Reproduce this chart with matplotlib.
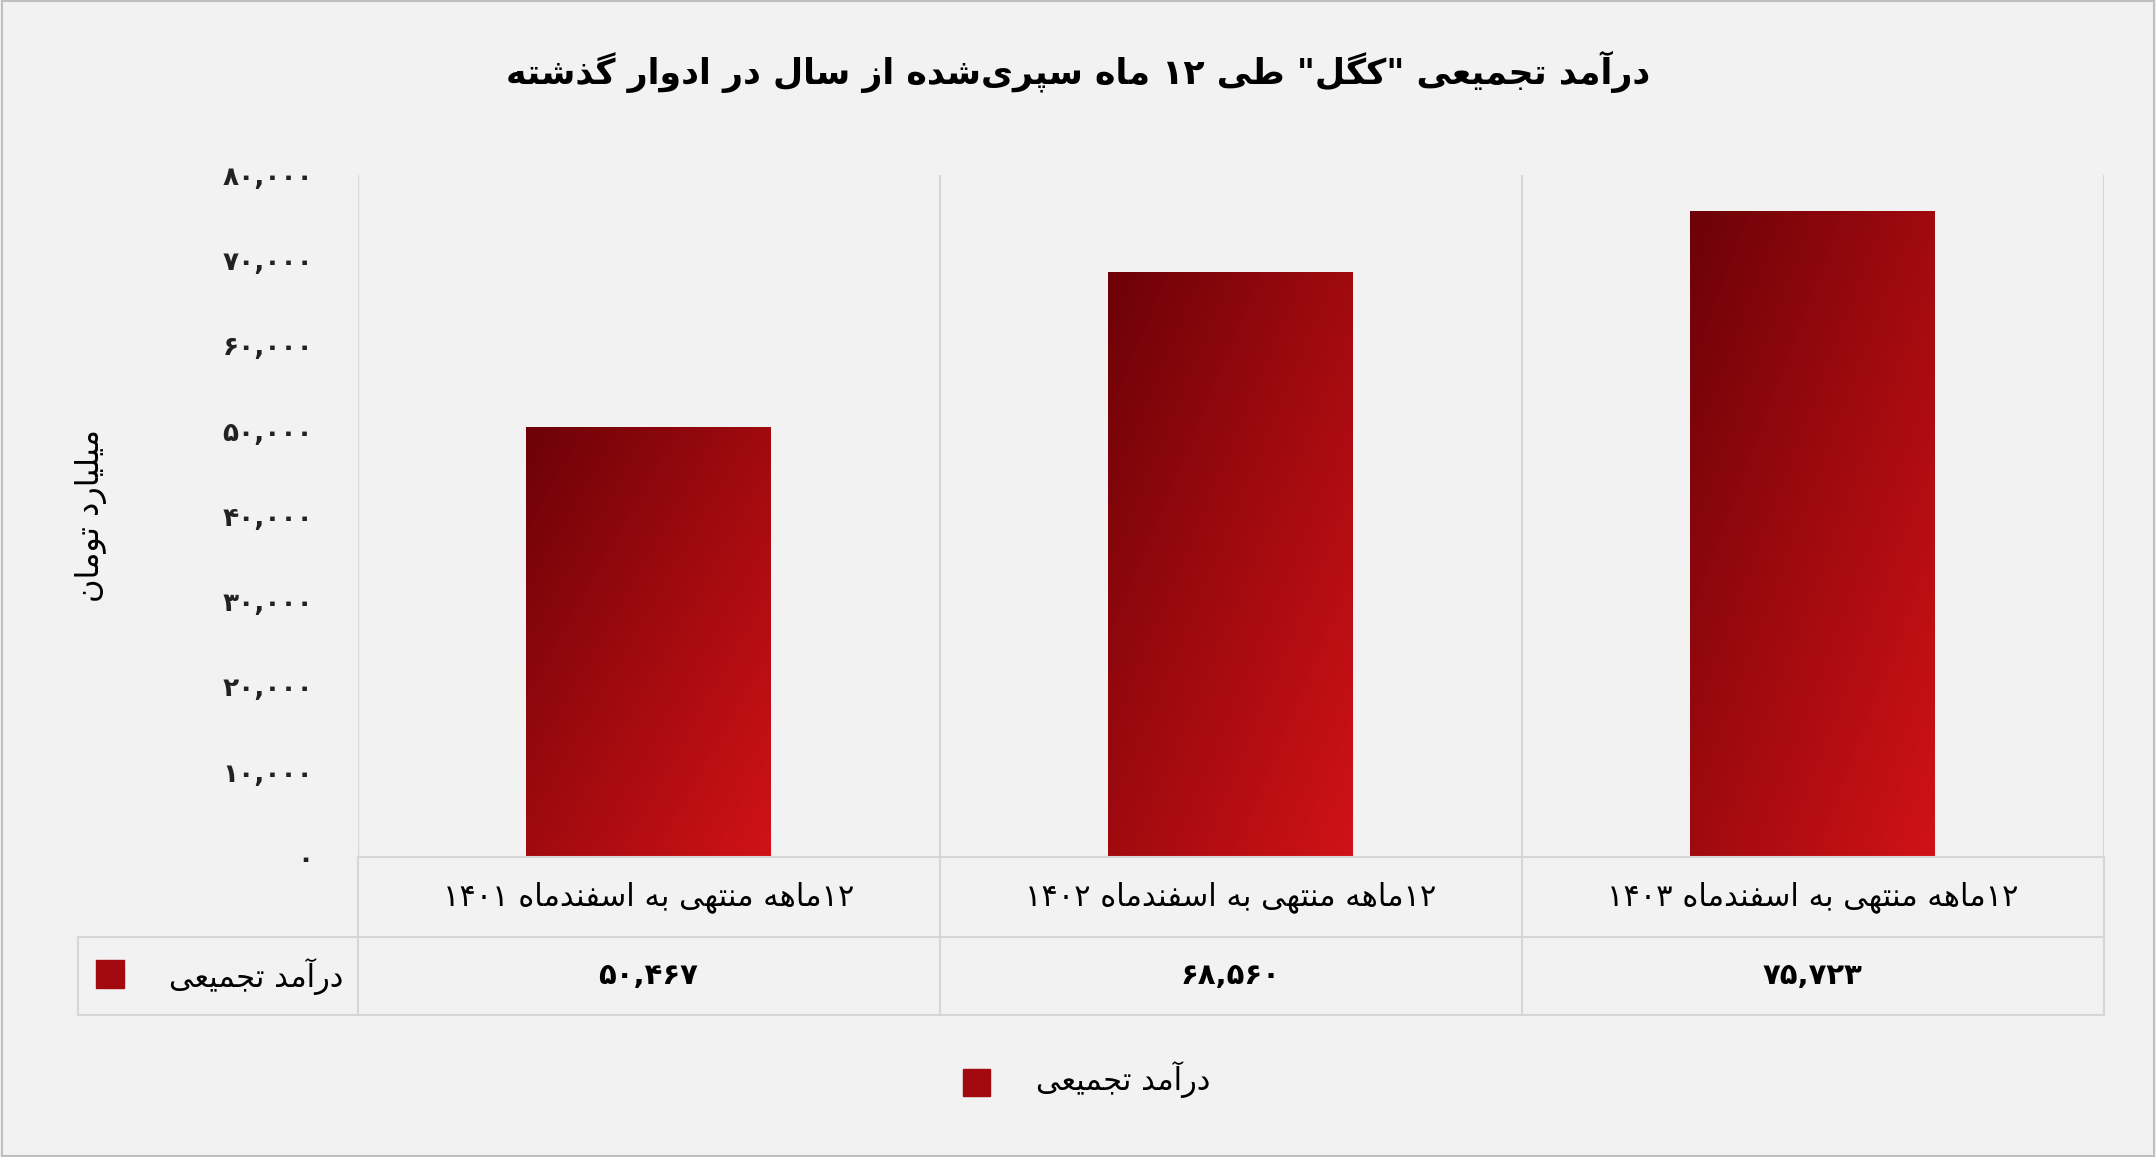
import matplotlib
matplotlib.use("Agg")
import matplotlib.pyplot as plt
import numpy as np
from matplotlib.patches import Rectangle
from matplotlib.colors import LinearSegmentedColormap

plt.rcParams['font.family'] = ['DejaVu Sans']

# ---- data ----
categories = ["۱۲ماهه منتهی به اسفندماه ۱۴۰۱",
              "۱۲ماهه منتهی به اسفندماه ۱۴۰۲",
              "۱۲ماهه منتهی به اسفندماه ۱۴۰۳"]
values = [50467, 68560, 75723]
value_labels = ["۵۰,۴۶۷", "۶۸,۵۶۰", "۷۵,۷۲۳"]
yticks = [0, 10000, 20000, 30000, 40000, 50000, 60000, 70000, 80000]
series_name = "درآمد تجمیعی"
title = 'درآمد تجمیعی "کگل" طی ۱۲ ماه سپری‌شده از سال در ادوار گذشته'
ylabel = "میلیارد تومان"

# ---- minimal Arabic/Persian shaping (no bidi lib available) ----
FORMS = {  # isolated, final, initial, medial
    'ا': (0xFE8D, 0xFE8E, None, None), 'آ': (0xFE81, 0xFE82, None, None),
    'ب': (0xFE8F, 0xFE90, 0xFE91, 0xFE92), 'پ': (0xFB56, 0xFB57, 0xFB58, 0xFB59),
    'ت': (0xFE95, 0xFE96, 0xFE97, 0xFE98), 'ج': (0xFE9D, 0xFE9E, 0xFE9F, 0xFEA0),
    'د': (0xFEA9, 0xFEAA, None, None), 'ذ': (0xFEAB, 0xFEAC, None, None),
    'ر': (0xFEAD, 0xFEAE, None, None), 'ز': (0xFEAF, 0xFEB0, None, None),
    'س': (0xFEB1, 0xFEB2, 0xFEB3, 0xFEB4), 'ش': (0xFEB5, 0xFEB6, 0xFEB7, 0xFEB8),
    'ط': (0xFEC1, 0xFEC2, 0xFEC3, 0xFEC4), 'ع': (0xFEC9, 0xFECA, 0xFECB, 0xFECC),
    'ف': (0xFED1, 0xFED2, 0xFED3, 0xFED4), 'ک': (0xFB8E, 0xFB8F, 0xFB90, 0xFB91),
    'گ': (0xFB92, 0xFB93, 0xFB94, 0xFB95), 'ل': (0xFEDD, 0xFEDE, 0xFEDF, 0xFEE0),
    'م': (0xFEE1, 0xFEE2, 0xFEE3, 0xFEE4), 'ن': (0xFEE5, 0xFEE6, 0xFEE7, 0xFEE8),
    'ه': (0xFEE9, 0xFEEA, 0xFEEB, 0xFEEC), 'و': (0xFEED, 0xFEEE, None, None),
    'ی': (0xFBFC, 0xFBFD, 0xFBFE, 0xFBFF),
}


def fa(s):
    out = []
    n = len(s)
    for i, c in enumerate(s):
        if c not in FORMS:
            if c != '\u200c':
                out.append(c)
            continue
        f = FORMS[c]
        prev = s[i - 1] if i > 0 else ''
        nxt = s[i + 1] if i + 1 < n else ''
        jp = prev in FORMS and FORMS[prev][2] is not None
        jn = nxt in FORMS and f[2] is not None
        if jp and jn:
            g = f[3]
        elif jp:
            g = f[1]
        elif jn:
            g = f[2]
        else:
            g = f[0]
        out.append(chr(g))
    # visual order: reverse, keep digit runs LTR
    rev = out[::-1]
    res, run = [], []
    for c in rev:
        if c.isdigit() or c in ',.':
            run.append(c)
        else:
            if run:
                res.extend(run[::-1]); run = []
            res.append(c)
    if run:
        res.extend(run[::-1])
    return ''.join(res)


def fa_num(v):
    s = f"{v:,}"
    return s.translate(str.maketrans("0123456789", "۰۱۲۳۴۵۶۷۸۹"))


W, H = 2156, 1157
fig = plt.figure(figsize=(W / 100, H / 100), dpi=100, facecolor='#f2f2f2')
fig.patches.append(Rectangle((0.001, 0.001), 0.998, 0.998, transform=fig.transFigure,
                             fill=False, edgecolor='#bfbfbf', lw=1.5))

L, R = 260 / 1568, 1530 / 1568
T, B = 1 - 127 / 841, 1 - 623 / 841
ax = fig.add_axes([L, B, R - L, T - B])
ax.set_facecolor('#f2f2f2')
for sp in ax.spines.values():
    sp.set_visible(False)
ax.set_xticks([])
ax.set_yticks(yticks)
ax.set_yticklabels([fa_num(t) for t in yticks], fontsize=19, fontweight='bold', color='#222')
ax.tick_params(axis='y', length=0, pad=32)
for xv in [-0.5, 0.5, 1.5, 2.5]:
    ax.axvline(xv, color='#d6d6d6', lw=1.5)

# gradient bars: dark top-left -> bright bottom-right
gx, gy = np.meshgrid(np.linspace(0, 1, 200), np.linspace(0, 1, 200))
grad = (gx + gy) / 2
cmap = LinearSegmentedColormap.from_list('g', ['#6c0207', '#a00a0f', '#d01217'])
bw = 0.42
for i, v in enumerate(values):
    rect = Rectangle((i - bw / 2, 0), bw, v, facecolor='none', edgecolor='none')
    ax.add_patch(rect)
    im = ax.imshow(grad, cmap=cmap, extent=(i - bw / 2, i + bw / 2, 0, v),
                   origin='upper', aspect='auto', zorder=2)
    im.set_clip_path(rect)
ax.set_xlim(-0.5, 2.5)
ax.set_ylim(0, 80000)

fig.text(0.5, 1 - 52 / 841, fa(title), ha='center', va='center', fontsize=25, fontweight='bold')
fig.text(66 / 1568, 1 - 375 / 841, fa(ylabel), rotation=90, ha='center', va='center', fontsize=23)

# data table
tl = 57 / 1568
r1, r2, r3 = 1 - 623 / 841, 1 - 681 / 841, 1 - 738 / 841
lc = '#d6d6d6'
fig.add_artist(plt.Line2D([L, R], [r1, r1], color=lc, lw=1.5))
fig.add_artist(plt.Line2D([tl, R], [r2, r2], color=lc, lw=1.5))
fig.add_artist(plt.Line2D([tl, R], [r3, r3], color=lc, lw=1.5))
fig.add_artist(plt.Line2D([tl, tl], [r2, r3], color=lc, lw=1.5))
cw = (R - L) / 3
for k in range(4):
    fig.add_artist(plt.Line2D([L + k * cw] * 2, [r1, r3], color=lc, lw=1.5))
for i in range(3):
    cx = L + (i + 0.5) * cw
    fig.text(cx, (r1 + r2) / 2, fa(categories[i]), ha='center', va='center', fontsize=22)
    fig.text(cx, (r2 + r3) / 2, fa(value_labels[i]), ha='center', va='center', fontsize=21,
             fontweight='bold')
fig.text(250 / 1568, (r2 + r3) / 2, fa(series_name), ha='right', va='center', fontsize=22)
fig.patches.append(Rectangle((70 / 1568, 1 - 718 / 841), 20 / 1568, 20 / 841,
                             transform=fig.transFigure, color='#a30a10'))

# legend
fig.patches.append(Rectangle((700 / 1568, 1 - 797 / 841), 20 / 1568, 20 / 841,
                             transform=fig.transFigure, color='#a30a10'))
fig.text(880 / 1568, 1 - 785 / 841, fa(series_name), ha='right', va='center', fontsize=22)

fig.savefig('out.png', dpi=100, facecolor=fig.get_facecolor())
